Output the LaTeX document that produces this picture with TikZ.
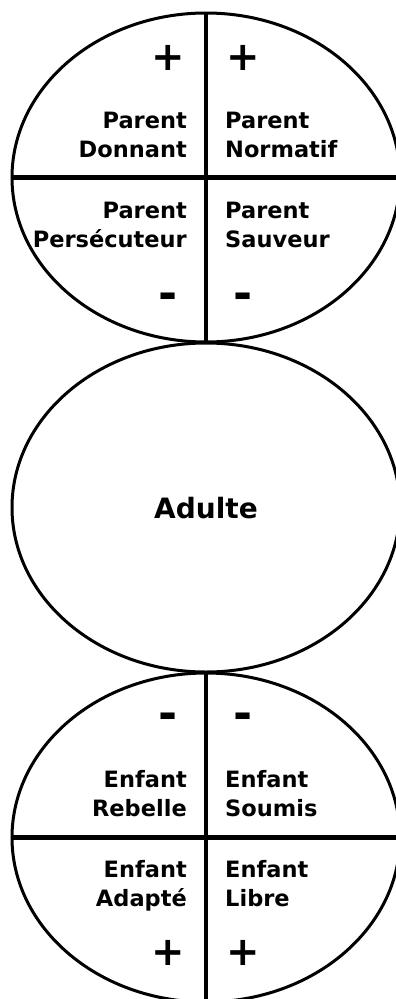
\documentclass[tikz,border=0pt]{standalone}
\usepackage{fontspec}
\setmainfont{DejaVu Sans}
\usetikzlibrary{shapes.geometric}
\begin{document}
\begin{tikzpicture}[x=1pt,y=1pt,
  oval/.style={draw=black,line width=3pt,ellipse,minimum width=388pt,minimum height=329pt,inner sep=0pt},
  divider/.style={draw=black,line width=4.5pt},
  lbl/.style={font=\fontsize{22.5}{29}\selectfont\bfseries,inner sep=0pt,align=left},
  lblr/.style={font=\fontsize{22.5}{29}\selectfont\bfseries,inner sep=0pt,align=right},
  plus/.style={font=\fontsize{40}{40}\selectfont\bfseries,inner sep=0pt},
  minus/.style={font=\fontsize{46}{46}\selectfont\bfseries,inner sep=0pt,anchor=base}]
\useasboundingbox (0,0) rectangle (396,-999);
\begin{scope}
\clip (0,0) rectangle (396,-999);
% top ellipse
\node[oval] (parent) at (206,-177.5) {};
\draw[divider] (parent.north) -- (parent.south);
\draw[divider] (parent.west) -- (parent.east);
% adult ellipse
\node[oval] (adulte) at (206,-507.5) {};
\node[font=\fontsize{28}{34}\selectfont\bfseries] (adtext) at (206,-508) {Adulte};
% bottom ellipse
\node[oval] (enfant) at (206,-837.5) {};
\draw[divider] (enfant.north) -- (enfant.south);
\draw[divider] (enfant.west) -- (enfant.east);
\end{scope}
% parent labels
\node[plus] (p1) at (168,-58) {+};
\node[plus] (p2) at (243,-58) {+};
\node[lblr,anchor=base east] (pd) at (187,-157) {Parent\\Donnant};
\node[lbl,anchor=base west] (pn) at (225,-157) {Parent\\Normatif};
\node[lblr,anchor=base east] (pp) at (187,-247) {Parent\\Persécuteur};
\node[lbl,anchor=base west] (ps) at (225,-247) {Parent\\Sauveur};
\node[minus] (m1) at (168,-309) {-};
\node[minus] (m2) at (243,-309) {-};
% enfant labels
\node[minus] (m3) at (168,-729) {-};
\node[minus] (m4) at (243,-729) {-};
\node[lblr,anchor=base east] (er) at (187,-816) {Enfant\\Rebelle};
\node[lbl,anchor=base west] (es) at (225,-816) {Enfant\\Soumis};
\node[lblr,anchor=base east] (ea) at (187,-906) {Enfant\\Adapté};
\node[lbl,anchor=base west] (el) at (225,-906) {Enfant\\Libre};
\node[plus] (p3) at (168,-953) {+};
\node[plus] (p4) at (243,-953) {+};
\end{tikzpicture}
\end{document}
